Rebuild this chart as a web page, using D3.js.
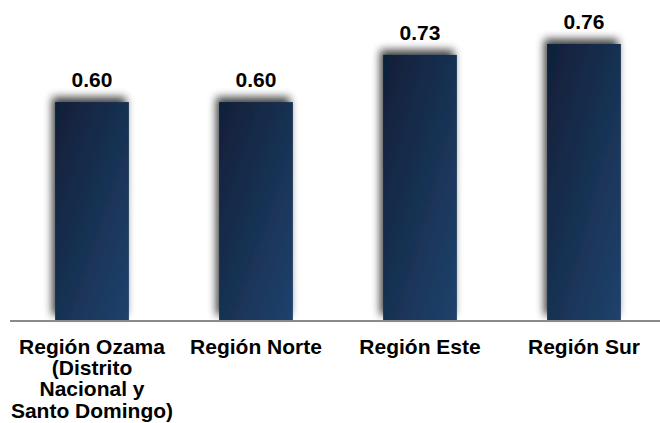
<!DOCTYPE html>
<html><head><meta charset="utf-8">
<script src="https://cdn.jsdelivr.net/npm/d3@7"></script>
<style>body{margin:0;background:#fff}svg{display:block}</style>
</head><body>
<script>
const categories = [
  ["Región Ozama","(Distrito","Nacional y","Santo Domingo)"],
  ["Región Norte"],
  ["Región Este"],
  ["Región Sur"]
];
const catKeys = ["Región Ozama (Distrito Nacional y Santo Domingo)","Región Norte","Región Este","Región Sur"];
const values = [0.60, 0.60, 0.73, 0.76];
const valueLabels = ["0.60","0.60","0.73","0.76"];

const W = 660, H = 423;
const svg = d3.select("body").append("svg").attr("width", W).attr("height", H);
const defs = svg.append("defs");
const grad = defs.append("linearGradient").attr("id","barGrad")
  .attr("x1","0").attr("y1","0").attr("x2","1").attr("y2","1");
grad.append("stop").attr("offset","0%").attr("stop-color","#101f38");
grad.append("stop").attr("offset","100%").attr("stop-color","#20426c");
const filt = defs.append("filter").attr("id","shadow")
  .attr("x","-30%").attr("y","-30%").attr("width","160%").attr("height","160%");
filt.append("feGaussianBlur").attr("in","SourceAlpha").attr("stdDeviation",4.5).attr("result","b");
filt.append("feOffset").attr("in","b").attr("dx",-3).attr("dy",-5).attr("result","o");
filt.append("feComponentTransfer").attr("in","o").attr("result","s")
  .append("feFuncA").attr("type","linear").attr("slope",0.75);
const mg = filt.append("feMerge");
mg.append("feMergeNode").attr("in","s");
mg.append("feMergeNode").attr("in","SourceGraphic");

const x = d3.scaleBand().domain(catKeys).range([10, 666]).paddingInner(0.55).paddingOuter(0.275);
const y = d3.scaleLinear().domain([0, 1]).range([320, 320 - 363.2]);

const data = catKeys.map((k,i)=>({k, v: values[i], lab: valueLabels[i], lines: categories[i]}));

svg.append("g").selectAll("rect").data(data).join("rect")
  .attr("x", d => x(d.k)).attr("width", x.bandwidth())
  .attr("y", d => y(d.v)).attr("height", d => y(0) - y(d.v))
  .attr("fill", "url(#barGrad)").attr("filter","url(#shadow)");

svg.append("line").attr("x1", 10).attr("x2", W).attr("y1", y(0)+1).attr("y2", y(0)+1)
  .attr("stroke", "#8a8a8a").attr("stroke-width", 2);

svg.append("g").selectAll("text").data(data).join("text")
  .attr("x", d => x(d.k) + x.bandwidth()/2).attr("y", d => y(d.v) - 15)
  .attr("text-anchor","middle")
  .style("font-family","Arial, 'Liberation Sans', sans-serif")
  .style("font-weight","bold").style("font-size","21px").attr("fill","#000")
  .text(d => d.lab);

const lab = svg.append("g").selectAll("text").data(data).join("text")
  .attr("text-anchor","middle")
  .style("font-family","Arial, 'Liberation Sans', sans-serif")
  .style("font-weight","bold").style("font-size","21px").attr("fill","#000");
lab.each(function(d){
  const t = d3.select(this);
  d.lines.forEach((ln,j)=>{
    t.append("tspan").attr("x", x(d.k) + x.bandwidth()/2).attr("y", 354 + j*21.2).text(ln);
  });
});
</script>
</body></html>
